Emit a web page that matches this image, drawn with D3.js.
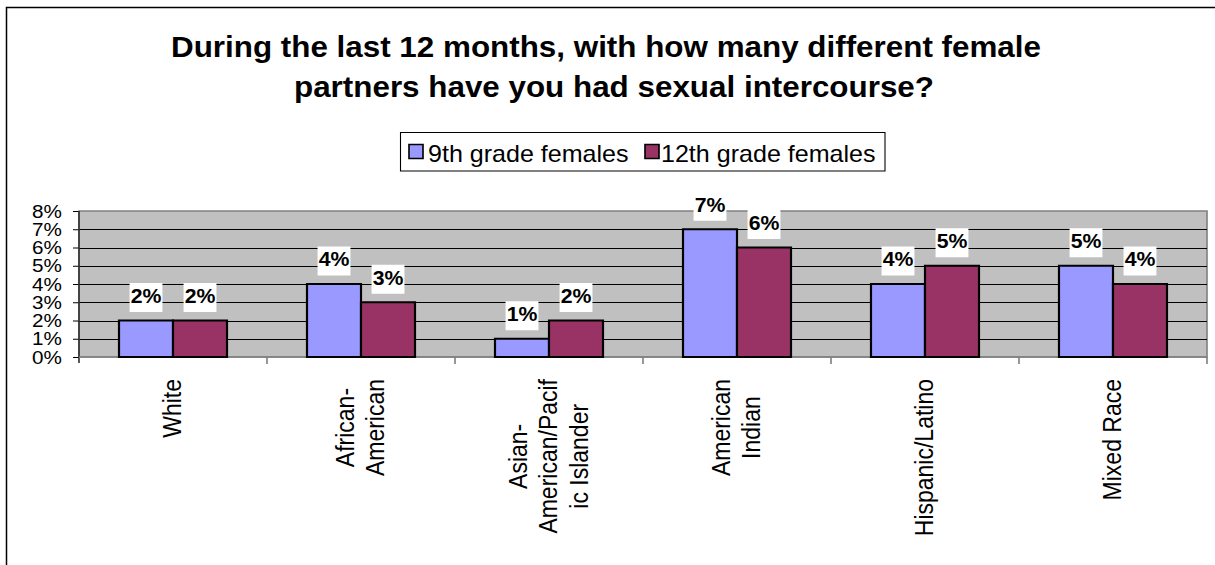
<!DOCTYPE html>
<html><head><meta charset="utf-8">
<script src="https://cdn.jsdelivr.net/npm/d3@7"></script>
<style>body{margin:0;background:#fff}svg{display:block}text{font-family:"Liberation Sans",Arial,sans-serif}</style>
</head><body><svg id="c" width="1215" height="565"></svg>
<script>
const titleLines = ["During the last 12 months, with how many different female", "partners have you had sexual intercourse?"];
const categories = ["White","African-American","Asian-American/Pacific Islander","American Indian","Hispanic/Latino","Mixed Race"];
const categoryLines = [["White"],["African-","American"],["Asian-","American/Pacif","ic Islander"],["American","Indian"],["Hispanic/Latino"],["Mixed Race"]];
const seriesNames = ["9th grade females","12th grade females"];
const grade9 = [0.02,0.04,0.01,0.07,0.04,0.05];
const grade12 = [0.02,0.03,0.02,0.06,0.05,0.04];
const yTicks = [0,0.01,0.02,0.03,0.04,0.05,0.06,0.07,0.08];
const colors = ["#9999FF","#993366"];

const sx = 1.09;            // horizontal stretch of the reference
const X = v => v / sx;      // screen px -> local px
const svg = d3.select("#c");
svg.append("rect").attr("x",6.5).attr("y",7.5).attr("width",1230).attr("height",580)
  .attr("fill","#fff").attr("stroke","#000").attr("stroke-width",1.5);
const g = svg.append("g").attr("transform",`scale(${sx},1)`);

const pLeft = X(79), pRight = X(1207), pTop = 211, pBottom = 357;
const y = d3.scaleLinear().domain([0,0.08]).range([pBottom,pTop]);
const x0 = d3.scaleBand().domain(categories).range([pLeft,pRight]).paddingInner(0.4255).paddingOuter(0.2128);
const x1 = d3.scaleBand().domain(seriesNames).range([0,x0.bandwidth()]);

// title
const titleX = [606, 614];
g.append("text").attr("text-anchor","middle")
  .attr("font-size",28.8).attr("font-weight","bold")
  .selectAll("tspan").data(titleLines).join("tspan")
  .attr("x",(d,i)=>X(titleX[i])).attr("y",(d,i)=>57+i*40).text(d=>d);

// legend
const lg = g.append("g");
lg.append("rect").attr("x",X(400.5)).attr("y",132.5).attr("width",X(885)-X(400.5)).attr("height",38.5)
  .attr("fill","#fff").attr("stroke","#000").attr("stroke-width",1);
const legX = [[409,428],[645,661]];
seriesNames.forEach((s,i)=>{
  lg.append("rect").attr("x",X(legX[i][0])).attr("y",144.5).attr("width",X(14)).attr("height",14)
    .attr("fill",colors[i]).attr("stroke","#000").attr("stroke-width",1.5);
  lg.append("text").attr("x",X(legX[i][1])).attr("y",162).attr("font-size",23).text(s);
});

// plot area
g.append("rect").attr("x",pLeft).attr("y",pTop).attr("width",pRight-pLeft).attr("height",pBottom-pTop)
  .attr("fill","#C0C0C0").attr("stroke","#808080").attr("stroke-width",1.5);
g.append("g").selectAll("line").data(yTicks.slice(1,-1)).join("line")
  .attr("x1",pLeft).attr("x2",pRight).attr("y1",d=>Math.round(y(d))+0.5).attr("y2",d=>Math.round(y(d))+0.5)
  .attr("stroke","#000").attr("stroke-width",1);

// y axis
const yAxis = g.append("g").attr("transform",`translate(${pLeft},0)`)
  .call(d3.axisLeft(y).tickValues(yTicks).tickFormat(d3.format(".0%")).tickSize(X(6)).tickPadding(X(11)));
yAxis.select(".domain").remove();
yAxis.selectAll(".tick line").attr("stroke","#000");
yAxis.selectAll(".tick text").attr("font-size",19).attr("font-family",'"Liberation Sans",Arial,sans-serif').attr("fill","#000");
g.append("line").attr("x1",pLeft).attr("x2",pLeft).attr("y1",pTop).attr("y2",pBottom+6).attr("stroke","#333").attr("stroke-width",1.5);

// x axis
g.append("line").attr("x1",pLeft).attr("x2",pRight).attr("y1",pBottom).attr("y2",pBottom).attr("stroke","#808080").attr("stroke-width",1.5);
const bounds = d3.range(categories.length+1).map(i=>pLeft+i*x0.step());
g.append("g").selectAll("line").data(bounds.slice(1)).join("line")
  .attr("x1",d=>d).attr("x2",d=>d).attr("y1",pBottom).attr("y2",pBottom+7)
  .attr("stroke","#808080").attr("stroke-width",1.5);

// bars
const data = categories.map((c,i)=>({c, vals:[grade9[i],grade12[i]]}));
const groups = g.append("g").selectAll("g").data(data).join("g")
  .attr("transform",d=>`translate(${x0(d.c)},0)`);
groups.selectAll("rect").data(d=>d.vals.map((v,j)=>({s:seriesNames[j],v,j}))).join("rect")
  .attr("x",d=>x1(d.s)).attr("width",x1.bandwidth()).attr("y",d=>y(d.v)).attr("height",d=>pBottom-y(d.v))
  .attr("fill",d=>colors[d.j]).attr("stroke","#000").attr("stroke-width",2);

// data labels
groups.each(function(d){
  const gg = d3.select(this);
  d.vals.forEach((v,j)=>{
    const cx = x1(seriesNames[j]) + x1.bandwidth()/2;
    const by = y(v) - 17.5;
    const lbl = gg.append("g");
    const r = lbl.append("rect").attr("fill","#fff");
    const t = lbl.append("text").attr("x",cx).attr("y",by).attr("text-anchor","middle")
      .attr("font-size",19.5).attr("font-weight","bold").text(d3.format(".0%")(v));
    const w = t.node().getComputedTextLength();
    r.attr("x",cx-w/2-1).attr("width",w+2).attr("y",by-20).attr("height",29);
  });
});

// category labels (rotated)
const lineStep = X(30.5);
categories.forEach((c,i)=>{
  const lines = categoryLines[i];
  const cx = x0(c) + x0.bandwidth()/2;
  const tg = g.append("g");
  const texts = lines.map((ln,k)=>{
    const off = (k-(lines.length-1)/2)*lineStep;
    return tg.append("text").attr("font-size",23).attr("text-anchor","middle").text(ln).datum(off);
  });
  const L = d3.max(texts, t=>t.node().getComputedTextLength());
  const cy = 379 + L/2;
  texts.forEach(t=>{
    const off = t.datum();
    const bx = cx + off + X(8.2);
    t.attr("transform",`translate(${bx},${cy}) rotate(-90)`);
  });
});
</script></body></html>
